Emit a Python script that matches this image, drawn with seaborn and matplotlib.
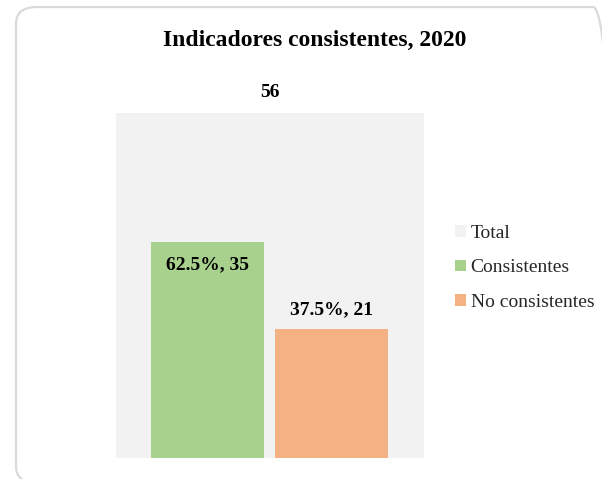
import matplotlib
matplotlib.use("Agg")
import matplotlib.pyplot as plt
from matplotlib.patches import FancyBboxPatch, Patch
import seaborn as sns
import pandas as pd

# Data
total_label = ["Total"]
total_value = [56]
categories = ["Consistentes", "No consistentes"]
counts = [35, 21]
shares = [62.5, 37.5]
title = "Indicadores consistentes, 2020"

colors = {"Total": "#f2f2f2", "Consistentes": "#a9d18e", "No consistentes": "#f4b183"}

sns.set_theme(style="white")
plt.rcParams["font.family"] = ["Liberation Serif", "DejaVu Serif"]

W, H = 602, 479
fig = plt.figure(figsize=(W / 100, H / 100), dpi=100)
fig.patch.set_facecolor("white")

def frac(x0, y0, x1, y1):
    return [x0 / W, 1 - y1 / H, (x1 - x0) / W, (y1 - y0) / H]

# Rounded card outline (runs past the right and bottom edges)
card = FancyBboxPatch((16 / W, -4 / H), (W + 12 - 16) / W, (H + 4 - 7) / H,
                      boxstyle="round,pad=0,rounding_size=0.035",
                      transform=fig.transFigure, facecolor="none",
                      edgecolor="#dadada", linewidth=1.6, zorder=-5)
fig.patches.append(card)

rect = frac(116, 113, 424, 458)

# Background bar: total
ax_t = fig.add_axes(rect)
df_t = pd.DataFrame({"cat": total_label, "val": total_value})
sns.barplot(data=df_t, x="cat", y="val", color=colors["Total"], width=1.0,
            saturation=1, linewidth=0, ax=ax_t)
ax_t.set_xlim(-0.5, 0.5)
ax_t.set_ylim(0, 56)
ax_t.axis("off")
ax_t.text(0.0, total_value[0] + 3.3, f"{total_value[0]}", ha="center", va="center",
          fontsize=14, fontweight="bold", color="black")

# Foreground bars: breakdown
ax_s = fig.add_axes(rect)
ax_s.patch.set_alpha(0)
df_s = pd.DataFrame({"cat": categories, "val": counts})
sns.barplot(data=df_s, x="cat", y="val", hue="cat", palette=colors,
            width=0.911, saturation=1, linewidth=0, legend=False, ax=ax_s)
ax_s.set_xlim(-0.738, 1.746)
ax_s.set_ylim(0, 56)
ax_s.axis("off")

ax_s.text(0, counts[0] - 3.6, f"{shares[0]}%, {counts[0]}", ha="center", va="center",
          fontsize=14, fontweight="bold", color="black")
ax_s.text(1, counts[1] + 3.0, f"{shares[1]}%, {counts[1]}", ha="center", va="center",
          fontsize=14, fontweight="bold", color="black")

fig.text(315 / W, 1 - 40 / H, title, ha="center", va="center",
         fontsize=17, fontweight="bold", color="black")

handles = [Patch(facecolor=colors[k], edgecolor="none") for k in total_label + categories]
fig.legend(handles, total_label + categories, loc="center left",
           bbox_to_anchor=(455 / W, 1 - 268 / H), frameon=False,
           fontsize=14, handlelength=0.55, handleheight=0.55, handletextpad=0.25,
           labelspacing=0.9, borderpad=0, borderaxespad=0)

fig.savefig("out.png", dpi=100, facecolor="white")
